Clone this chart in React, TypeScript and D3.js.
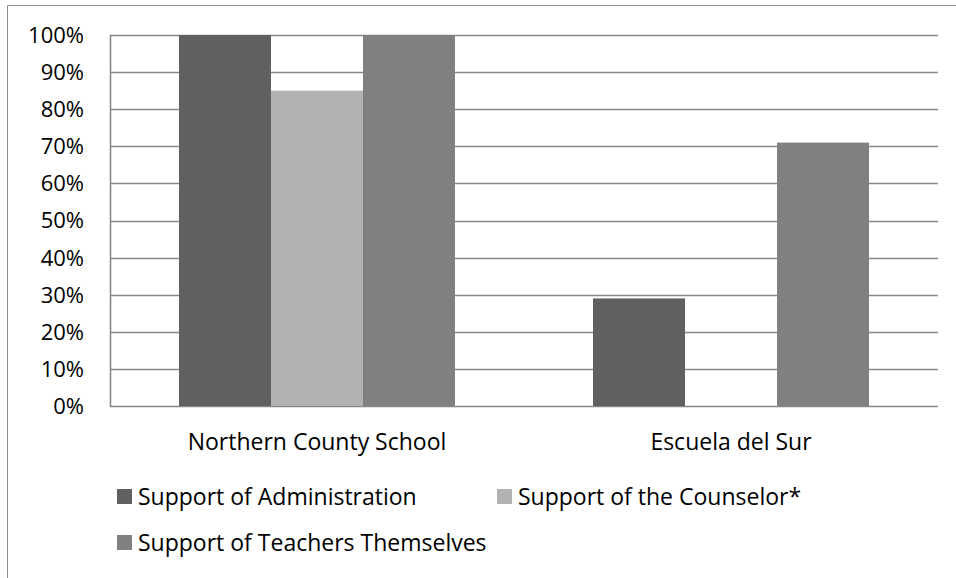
import React from "react";
import * as d3 from "d3";

const categories = ["Northern County School", "Escuela del Sur"];
const seriesNames = ["Support of Administration", "Support of the Counselor*", "Support of Teachers Themselves"];
const administration = [1.0, 0.29];
const counselor = [0.85, 0];
const teachers = [1.0, 0.71];
const seriesValues = [administration, counselor, teachers];
const seriesColors = ["#606060", "#b2b2b2", "#808080"];
const yTicks = [0, 0.1, 0.2, 0.3, 0.4, 0.5, 0.6, 0.7, 0.8, 0.9, 1.0];

const W = 956;
const H = 578;
const plot = { left: 110, right: 938, top: 35, bottom: 406 };
const FONT = "'Open Sans', 'Noto Sans', sans-serif";
const FS = 23;
const FS_Y = 22;

export default function App() {
  const x0 = d3.scaleBand<string>().domain(categories).range([plot.left, plot.right]).paddingInner(0).paddingOuter(0);
  const groupInner = 276 / 414;
  const x1 = d3
    .scaleBand<string>()
    .domain(seriesNames)
    .range([0, x0.bandwidth() * groupInner]);
  const groupOffset = (x0.bandwidth() * (1 - groupInner)) / 2;
  const y = d3.scaleLinear().domain([0, 1]).range([plot.bottom, plot.top]);
  const fmt = d3.format(".0%");

  const legend = [
    { name: seriesNames[0], color: seriesColors[0], x: 117, y: 489 },
    { name: seriesNames[1], color: seriesColors[1], x: 497, y: 489 },
    { name: seriesNames[2], color: seriesColors[2], x: 117, y: 535 },
  ];

  return (
    <svg
      width={W}
      height={H}
      style={{ position: "absolute", left: 0, top: 0, background: "#fff" }}
      fontFamily={FONT}
    >
      <rect x={0} y={0} width={W} height={H} fill="#fff" />
      {/* outer chart frame (partially visible) */}
      <line x1={7.5} y1={5.5} x2={W} y2={5.5} stroke="#8c8c8c" strokeWidth={1} />
      <line x1={7.5} y1={5.5} x2={7.5} y2={H} stroke="#8c8c8c" strokeWidth={1} />

      {/* gridlines */}
      {yTicks.map((t) => (
        <line
          key={"g" + t}
          x1={plot.left}
          x2={plot.right}
          y1={Math.round(y(t)) + 0.5}
          y2={Math.round(y(t)) + 0.5}
          stroke="#888888"
          strokeWidth={1.6}
        />
      ))}
      {/* y axis line */}
      <line x1={plot.left + 0.5} x2={plot.left + 0.5} y1={plot.top} y2={plot.bottom + 1} stroke="#888888" strokeWidth={1.6} />

      {/* bars */}
      {categories.map((c, ci) =>
        seriesNames.map((s, si) => {
          const v = seriesValues[si][ci];
          if (!v) return null;
          const bx = (x0(c) as number) + groupOffset + (x1(s) as number);
          return (
            <rect
              key={c + s}
              x={bx}
              y={y(v)}
              width={x1.bandwidth()}
              height={y(0) - y(v)}
              fill={seriesColors[si]}
            />
          );
        })
      )}

      {/* y tick labels */}
      {yTicks.map((t) => (
        <text
          key={"t" + t}
          x={84}
          y={y(t)}
          dy="0.36em"
          textAnchor="end"
          fontSize={FS_Y}
          fill="#000"
        >
          {fmt(t)}
        </text>
      ))}

      {/* category labels */}
      {categories.map((c) => (
        <text
          key={"c" + c}
          x={(x0(c) as number) + x0.bandwidth() / 2}
          y={450}
          textAnchor="middle"
          fontSize={FS}
          fill="#000"
        >
          {c}
        </text>
      ))}

      {/* legend */}
      {legend.map((l) => (
        <g key={l.name}>
          <rect x={l.x} y={l.y} width={15} height={15} fill={l.color} />
          <text x={l.x + 21} y={l.y + 16} fontSize={FS} fill="#000">
            {l.name}
          </text>
        </g>
      ))}
    </svg>
  );
}
